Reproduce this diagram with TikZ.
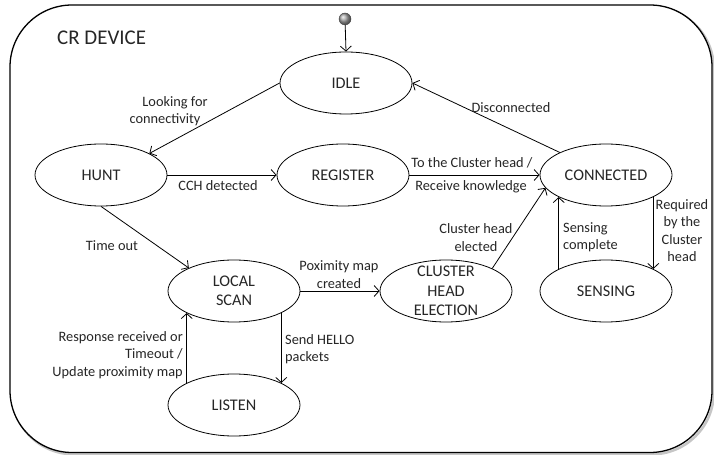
\documentclass[tikz,border=0pt]{standalone}
\usepackage{fontspec}
\setmainfont{Carlito}
\usetikzlibrary{shapes.geometric,arrows.meta}
\begin{document}
\begin{tikzpicture}[x=1bp,y=-1bp,
  state/.style={draw, ellipse, minimum width=132bp, minimum height=62bp, inner sep=0pt, line width=0.8bp},
  stxt/.style={font=\fontsize{16.3}{19.5}\selectfont, align=center, inner sep=0pt, text=black!85},
  lbl/.style={font=\fontsize{14.4}{17.3}\selectfont, inner sep=0pt, text=black!85},
  arr/.style={-{Straight Barb[length=5bp,width=11bp]}, line width=0.8bp},
]
\useasboundingbox (0,0) rectangle (714,455);
% frame with shadow
\draw[gray!45, line width=2.5bp, rounded corners=62bp] (11.8,6.8) rectangle (713.8,454.3);
\draw[line width=1.3bp, rounded corners=62bp, fill=white] (10,5) rectangle (712,452.5);
\node[anchor=west, inner sep=0pt, font=\fontsize{21}{24}\selectfont, text=black!85] (title) at (57,38) {CR DEVICE};

% start
\node[circle, shade, ball color=gray!70, draw=gray!50!black, line width=0.4bp, minimum size=12bp, inner sep=0pt] (start) at (345,19) {};

% states
\node[state] (idle) at (346,83) {};
\node[state] (hunt) at (101,175) {};
\node[state] (reg) at (343,175) {};
\node[state] (con) at (606,175) {};
\node[state] (local) at (234,291) {};
\node[state] (clh) at (446,291) {};
\node[state] (sens) at (606,291) {};
\node[state] (listen) at (234,405) {};

\node[stxt] (tidle) at (idle) {IDLE};
\node[stxt] (thunt) at (hunt) {HUNT};
\node[stxt] (treg) at (reg) {REGISTER};
\node[stxt] (tcon) at (con) {CONNECTED};
\node[stxt] (tlocal) at (local) {LOCAL\\SCAN};
\node[stxt] (tclh) at (clh) {CLUSTER\\HEAD\\ELECTION};
\node[stxt] (tsens) at (sens) {SENSING};
\node[stxt] (tlisten) at (listen) {LISTEN};

% transitions
\draw[arr] (start) -- (idle.north);
\draw[arr] (idle.west) -- (hunt.24);
\draw[arr] (con.154) -- (idle.east);
\draw[arr] (hunt.east) -- (reg.west);
\draw[arr] (reg.east) -- (con.west);
\draw[arr] (hunt.south) -- (local.153);
\draw[arr] (local.east) -- (clh.west);
\draw[arr] (clh.26) -- (con.192);
\draw[arr] (sens.155) -- (con.205);
\draw[arr] (con.335) -- (sens.25);
\draw[arr] (local.335) -- (listen.25);
\draw[arr] (listen.155) -- (local.205);

% labels
\node[lbl, align=center] (l1) at (165,111) {\hspace*{20bp}Looking for\\connectivity};
\node[lbl] (l2) at (511,108) {Disconnected};
\node[lbl] (l3) at (218,186) {CCH detected};
\node[lbl] (l4) at (472,163) {To the Cluster head /};
\node[lbl] (l5) at (471,187) {Receive knowledge};
\node[lbl] (l6) at (112,246) {Time out};
\node[lbl, align=center] (l7) at (339,274.5) {Poximity map\\created};
\node[lbl, align=center] (l8) at (476,237.5) {Cluster head\\elected};
\node[lbl, align=left, anchor=west] (l9) at (563,237.5) {Sensing\\complete};
\node[lbl, align=center] (l10) at (682,230.5) {Required\\by the\\Cluster\\head};
\node[lbl, align=left, anchor=west] (l11) at (285,349) {Send HELLO\\packets};
\node[lbl, align=right, anchor=east] (l12) at (183,355) {Response received or\\Timeout /\\Update proximity map};
\end{tikzpicture}
\end{document}
